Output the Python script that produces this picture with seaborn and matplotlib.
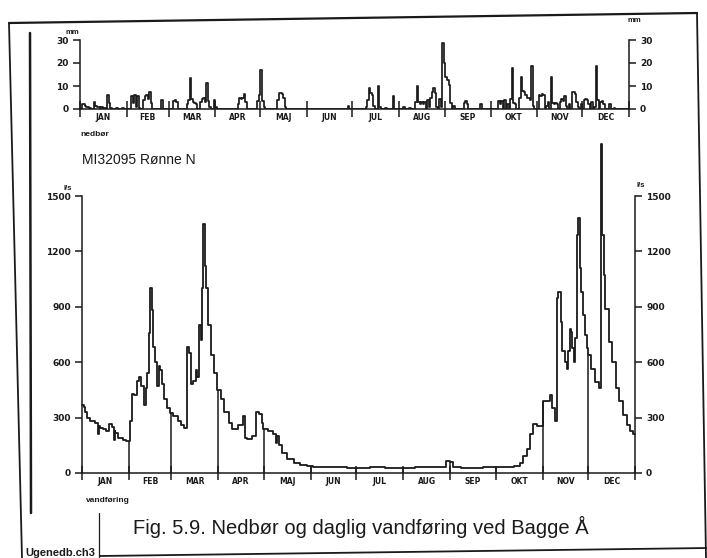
import numpy as np
import matplotlib
matplotlib.use("Agg")
import matplotlib.pyplot as plt
from matplotlib.lines import Line2D
import seaborn as sns

# Months
month_names = ["JAN", "FEB", "MAR", "APR", "MAJ", "JUN",
               "JUL", "AUG", "SEP", "OKT", "NOV", "DEC"]
month_edges = [0, 31, 59, 90, 120, 151, 181, 212, 243, 273, 304, 334, 365]

# Daily precipitation (mm) (days without rain = 0)
rain_day = [1, 2, 3, 4, 5, 6, 9, 10, 11, 12, 14, 16, 18, 19, 20, 24, 28,
            34, 35, 36, 37, 38, 39, 42, 43, 44, 45, 46, 47, 54,
            62, 63, 64, 71, 72, 73, 74, 75, 76, 77, 80, 81, 82, 83, 84, 85, 86, 89, 90,
            105, 106, 107, 108, 109, 110, 118, 119, 120, 121, 122,
            131, 132, 133, 134, 135, 136, 178,
            190, 191, 192, 193, 194, 195, 198, 199, 203, 208, 215, 219,
            223, 224, 225, 226, 227, 228, 229, 231, 232, 233, 234, 235, 236, 237,
            239, 240, 241, 242, 243, 244, 245, 246, 248, 255, 256, 257, 266,
            278, 279, 280, 282, 284, 286, 287, 288, 289, 292, 293, 294, 295,
            296, 297, 298, 299, 300, 301, 305, 306, 307, 308, 310, 311, 313,
            314, 315, 316, 317, 319, 320, 321, 322, 323, 325, 327, 328, 329,
            330, 331, 333, 335, 336, 337, 338, 340, 342, 343, 344, 346, 347,
            348, 352, 355]
rain_mm = [2.2, 2.2, 1.5, 1.0, 0.8, 0.5, 3.0, 1.2, 1.0, 0.8, 1.0, 0.5, 6.2, 2.6, 0.5, 0.3, 0.3,
           5.8, 2.5, 6.0, 1.0, 5.5, 0.5, 4.0, 5.5, 6.0, 4.5, 7.5, 2.5, 3.7,
           3.5, 3.7, 3.2, 2.0, 4.0, 13.4, 4.5, 3.0, 2.5, 2.0, 3.0, 4.5, 5.0, 3.0, 11.3, 3.6, 1.0, 4.0, 1.0,
           2.0, 4.8, 4.5, 4.8, 6.6, 3.0, 3.5, 6.2, 17.0, 3.6, 1.0,
           4.0, 6.8, 7.0, 6.5, 5.0, 1.0, 1.5,
           1.0, 4.0, 9.0, 7.0, 6.0, 1.5, 9.8, 1.0, 0.5, 5.7, 1.0, 0.5,
           3.0, 10.0, 3.0, 2.0, 3.0, 2.0, 3.0, 4.0, 1.0, 5.0, 7.5, 9.0, 7.0, 1.0,
           4.5, 1.0, 28.5, 20.0, 14.0, 12.5, 10.5, 2.8, 1.5, 2.5, 3.5, 2.0, 2.0,
           3.5, 2.0, 3.5, 4.0, 2.0, 4.5, 18.0, 2.5, 2.0, 5.0, 14.0, 8.0, 7.5,
           6.0, 5.0, 5.0, 4.0, 18.5, 1.5, 6.0, 5.5, 6.5, 6.0, 1.5, 3.0, 14.0,
           2.5, 2.0, 2.5, 2.0, 3.0, 4.5, 3.5, 5.5, 1.5, 2.0, 7.5, 7.5, 6.5,
           3.0, 1.0, 2.0, 4.0, 4.5, 4.0, 2.0, 3.0, 1.0, 18.5, 4.0, 3.0, 3.5,
           2.0, 2.0, 0.5]

# Daily discharge (l/s), step break points
flow_day = [0, 1, 2, 3, 5, 8.5, 10.5, 11.5, 12, 14, 16, 18, 19.5, 21, 21.5, 22,
            24, 27, 29, 31.5, 33, 34.5, 36.5, 37.5, 39, 41, 42, 43, 44, 45, 46,
            47, 48, 49.5, 50.5, 51.5, 52.5, 54, 56, 58, 60, 63.5, 65.5, 67.5, 69,
            70.5, 72, 73, 75, 76, 77.5, 78.5, 79.5, 80, 81, 82, 83, 85, 87, 89,
            91.5, 93.5, 97, 99, 100, 103, 106.5, 107.5, 109, 112, 115, 116.5,
            118.5, 119.5, 122.5, 126, 128, 129, 130, 132, 135.5, 140, 144, 148.5,
            152.5, 159, 165, 175, 190, 200, 210, 220, 230, 240, 243, 245, 247,
            250, 258, 265, 275, 285, 289, 291, 294, 296, 298, 300, 304, 309,
            310.5, 312.5, 313.5, 314.5, 316, 317, 319, 320, 321, 322, 322.5,
            323.5, 324.5, 325.5, 326.5, 327.5, 328.5, 329.5, 331, 332, 333,
            334, 336, 338.5, 341, 342.5, 343, 344.5, 345.5, 348, 350, 352.5,
            354.5, 357, 359.5, 361.5, 363.5, 365]
flow_ls = [370, 355, 330, 300, 280, 270, 210, 255, 245, 240, 230, 265, 250, 180, 225, 215,
           190, 180, 175, 280, 430, 420, 500, 520, 470, 370, 460, 540, 760, 1000,
           880, 680, 600, 470, 580, 560, 480, 400, 350, 325, 310, 280, 260, 245,
           680, 650, 480, 500, 560, 520, 800, 720, 1000, 1350, 1120, 1000, 800,
           640, 540, 450, 400, 330, 270, 240, 240, 260, 310, 190, 185, 200, 330,
           320, 270, 240, 230, 210, 160, 200, 150, 110, 75, 55, 45,
           38, 35, 33, 30, 28, 30, 27, 28, 30, 32, 65, 60, 35,
           30, 25, 28, 30, 32, 40, 55, 90, 130, 210, 265, 255, 390,
           420, 350, 280, 945, 980, 820, 660, 600, 565, 660, 780,
           765, 675, 600, 730, 1290, 1380, 1110, 980, 855, 750,
           675, 640, 565, 495, 460, 1780, 1290, 1070, 890, 710, 600,
           460, 390, 315, 260, 230, 210, 210]

rain_ticks = [0, 10, 20, 30]
flow_ticks = [0, 300, 600, 900, 1200, 1500]

sns.set_theme(style="white")
plt.rcParams["font.family"] = ["Liberation Sans", "DejaVu Sans"]
plt.rcParams["font.weight"] = "bold"

W, H = 707, 558
fig = plt.figure(figsize=(W / 100, H / 100), dpi=100)
ink = "#1a1a1a"


def px_axes(x0, x1, y_top, y_bot):
    return fig.add_axes([x0 / W, 1 - y_bot / H, (x1 - x0) / W, (y_bot - y_top) / H])


def style_axes(ax, yticks, major_len):
    mids = [(a + b) / 2 for a, b in zip(month_edges[:-1], month_edges[1:])]
    ax.set_xlim(0, 365)
    ax.set_ylim(yticks[0], yticks[-1])
    ax.set_xticks(month_edges)
    ax.set_xticklabels([])
    ax.set_xticks(mids, minor=True)
    ax.set_xticklabels(month_names, minor=True, family="DejaVu Sans")
    ax.set_yticks(yticks)
    ax.set_yticklabels([str(t) for t in yticks])
    ax.tick_params(axis="x", which="major", bottom=True, direction="inout",
                   length=major_len, width=1.1, color=ink)
    ax.tick_params(axis="x", which="minor", bottom=True, length=0,
                   labelsize=5.5, pad=3, labelcolor=ink)
    ax.tick_params(axis="y", left=True, right=True, labelleft=True, labelright=True,
                   direction="out", length=5, width=1.1, color=ink,
                   labelsize=6.5, pad=3, labelcolor=ink)
    for t in ax.yaxis.get_major_ticks():
        t.label1.set_family("DejaVu Sans")
        t.label2.set_family("DejaVu Sans")
    for side in ["left", "right", "bottom"]:
        ax.spines[side].set_color(ink)
        ax.spines[side].set_linewidth(1.1)
    ax.spines["top"].set_visible(False)
    ax.set_xlabel("")
    ax.set_ylabel("")
    ax.patch.set_alpha(0)


# Upper panel: precipitation
ax1 = px_axes(80, 629, 40, 109)
rain = np.zeros(365)
rain[rain_day] = rain_mm
sns.lineplot(x=np.arange(366), y=np.append(rain, 0), drawstyle="steps-post",
             color=ink, linewidth=1.25, ax=ax1)
style_axes(ax1, rain_ticks, 11)

# Lower panel: discharge
ax2 = px_axes(82, 635, 196, 473)
sns.lineplot(x=flow_day, y=flow_ls, drawstyle="steps-post", color=ink,
             linewidth=1.3, clip_on=False, ax=ax2)
style_axes(ax2, flow_ticks, 10)
idx = np.searchsorted(flow_day, month_edges[1:-1], side="right") - 1
ax2.vlines(month_edges[1:-1], 0, np.array(flow_ls)[idx], color=ink, linewidth=1.1)

# Texts
def ftext(x, y, s, **kw):
    fig.text(x / W, 1 - y / H, s, color=ink, **kw)

ftext(72, 33, "mm", fontsize=5.5, ha="center", va="center")
ftext(634, 21, "mm", fontsize=5.5, ha="center", va="center")
ftext(80, 135, "nedbør", fontsize=6, ha="left", va="center")
ftext(82, 160, "MI32095 Rønne N", fontsize=10, fontweight="normal", ha="left", va="center")
ftext(68, 188, "l/s", fontsize=5.5, ha="center", va="center")
ftext(641, 185, "l/s", fontsize=5.5, ha="center", va="center")
ftext(86, 500, "vandføring", fontsize=6, ha="left", va="center")
ftext(133, 534, "Fig. 5.9. Nedbør og daglig vandføring ved Bagge Å",
      fontsize=14.5, fontweight="normal", ha="left", va="baseline")
ftext(25, 556, "Ugenedb.ch3", fontsize=8, ha="left", va="baseline")

# Page frame of the scanned sheet
def fline(x0, y0, x1, y1, lw):
    fig.add_artist(Line2D([x0 / W, x1 / W], [1 - y0 / H, 1 - y1 / H],
                          transform=fig.transFigure, color=ink, linewidth=lw))

fline(9, 23, 697, 13, 1.6)
fline(9, 23, 22, 558, 1.3)
fline(697, 13, 706, 558, 1.3)
fline(30, 33, 31, 513, 1.8)
fline(99, 513, 99, 557, 0.9)
fline(100, 556, 707, 548, 1.3)

fig.savefig("out.png", dpi=100, facecolor="white")
